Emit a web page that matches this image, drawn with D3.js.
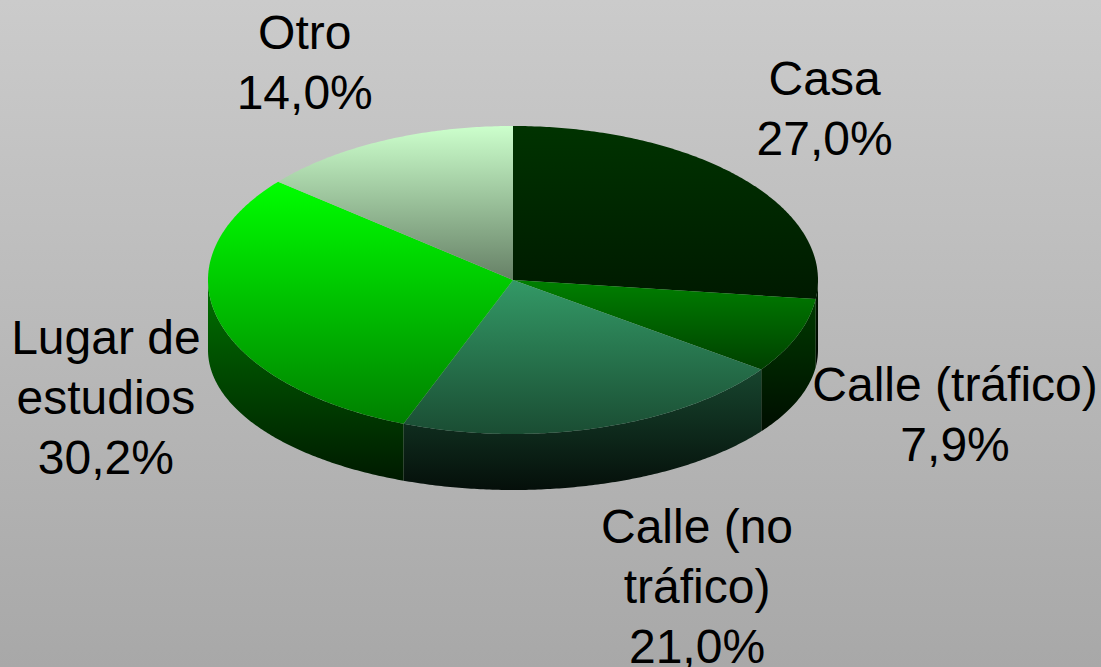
<!DOCTYPE html>
<html>
<head>
<meta charset="utf-8">
<script src="https://cdn.jsdelivr.net/npm/d3@7"></script>
<style>
  html, body { margin: 0; padding: 0; overflow: hidden; }
  text { font-family: 'Liberation Sans', Arial, sans-serif; }
</style>
</head>
<body>
<div id="svg-area"></div>
<script>
// slices go clockwise from 12 o'clock
var categories = ['Casa', 'Calle (tráfico)', 'Calle (no tráfico)', 'Lugar de estudios', 'Otro'];
var values = [27.0, 7.9, 21.0, 30.2, 14.0];
var label_lines = [['Casa'], ['Calle (tráfico)'], ['Calle (no', 'tráfico)'], ['Lugar de', 'estudios'], ['Otro']];
var slice_colors = ['#003300', '#008000', '#339966', '#00ff00', '#ccffcc'];

var svg_width = 1101,
    svg_height = 667;

var cx = 513, cy = 280,
    rx = 305, ry = 154,
    cy_bottom = 350, ry_bottom = 140,
    label_pad = 60,
    font_size = 48,
    line_height = 60,
    cap_height = 34;

// small per-label nudges (px) from the generic outside position
var label_nudge = [[38, -30], [102, -14], [79, 31], [-54, -7], [-53, -24]];

var fmt = d3.formatLocale({decimal: ',', thousands: '.', grouping: [3], currency: ['', '']}).format('.1f');

var svg = d3.select('#svg-area')
  .append('svg')
  .attr('width', svg_width)
  .attr('height', svg_height);

var defs = svg.append('defs');

var bg = defs.append('linearGradient')
  .attr('id', 'bg')
  .attr('x1', 0).attr('y1', 0).attr('x2', 0).attr('y2', 1);
bg.append('stop').attr('offset', 0).attr('stop-color', '#cbcbcb');
bg.append('stop').attr('offset', 1).attr('stop-color', '#a8a8a8');

svg.append('rect')
  .attr('width', svg_width)
  .attr('height', svg_height)
  .attr('fill', 'url(#bg)');

var scale_color = function(c, k) {
  var r = d3.rgb(c);
  return d3.rgb(r.r * k, r.g * k, r.b * k).formatHex();
};

var add_grad = function(id, c0, c1) {
  var g = defs.append('linearGradient')
    .attr('id', id)
    .attr('x1', 0).attr('y1', 0).attr('x2', 0).attr('y2', 1);
  g.append('stop').attr('offset', 0).attr('stop-color', c0);
  g.append('stop').attr('offset', 1).attr('stop-color', c1);
};

slice_colors.forEach(function(c, i) {
  add_grad('top' + i, c, scale_color(c, 0.5));
  add_grad('side' + i, scale_color(c, 0.45), scale_color(c, 0.1));
});

var pie = d3.pie().sort(null).value(d => d);
var arcs = pie(values);

var top_pt = a => [cx + rx * Math.sin(a), cy - ry * Math.cos(a)];
var bot_pt = a => [cx + rx * Math.sin(a), cy_bottom - ry_bottom * Math.cos(a)];

var sample = function(a0, a1) {
  var n = Math.max(2, Math.ceil(Math.abs(a1 - a0) / 0.01));
  return d3.range(n + 1).map(i => a0 + (a1 - a0) * i / n);
};

var line = d3.line();

// sides (front half only)
var sides = svg.append('g').attr('class', 'sides');
arcs.forEach(function(d, i) {
  var a0 = Math.max(d.startAngle, Math.PI / 2),
      a1 = Math.min(d.endAngle, Math.PI * 3 / 2);
  if (a0 >= a1) return;
  var pts = sample(a0, a1).map(top_pt).concat(sample(a1, a0).map(bot_pt));
  sides.append('path')
    .attr('d', line(pts) + 'Z')
    .attr('fill', 'url(#side' + i + ')');
});

// top faces
svg.append('g').attr('class', 'tops')
  .selectAll('path')
  .data(arcs)
  .enter()
  .append('path')
  .attr('d', d => line([[cx, cy]].concat(sample(d.startAngle, d.endAngle).map(top_pt))) + 'Z')
  .attr('fill', (d, i) => 'url(#top' + i + ')');

// labels
var labels = svg.append('g').attr('class', 'labels')
  .selectAll('text')
  .data(arcs)
  .enter()
  .append('text')
  .attr('text-anchor', 'middle')
  .attr('font-size', font_size + 'px')
  .attr('fill', '#000000');

labels.each(function(d, i) {
  var mid = (d.startAngle + d.endAngle) / 2;
  var s = Math.sin(mid), c = Math.cos(mid);
  var x = cx + (rx + label_pad) * s + label_nudge[i][0];
  var y = cy - (ry + label_pad) * c + (c < 0 ? cy_bottom - cy : 0) + label_nudge[i][1];
  var lines = label_lines[i].concat([fmt(values[i]) + '%']);
  var h = (lines.length - 1) * line_height + cap_height;
  var y0 = y - h / 2 + cap_height;
  d3.select(this).selectAll('tspan')
    .data(lines)
    .enter()
    .append('tspan')
    .attr('x', x)
    .attr('y', (t, j) => y0 + j * line_height)
    .text(t => t);
});
</script>
</body>
</html>
